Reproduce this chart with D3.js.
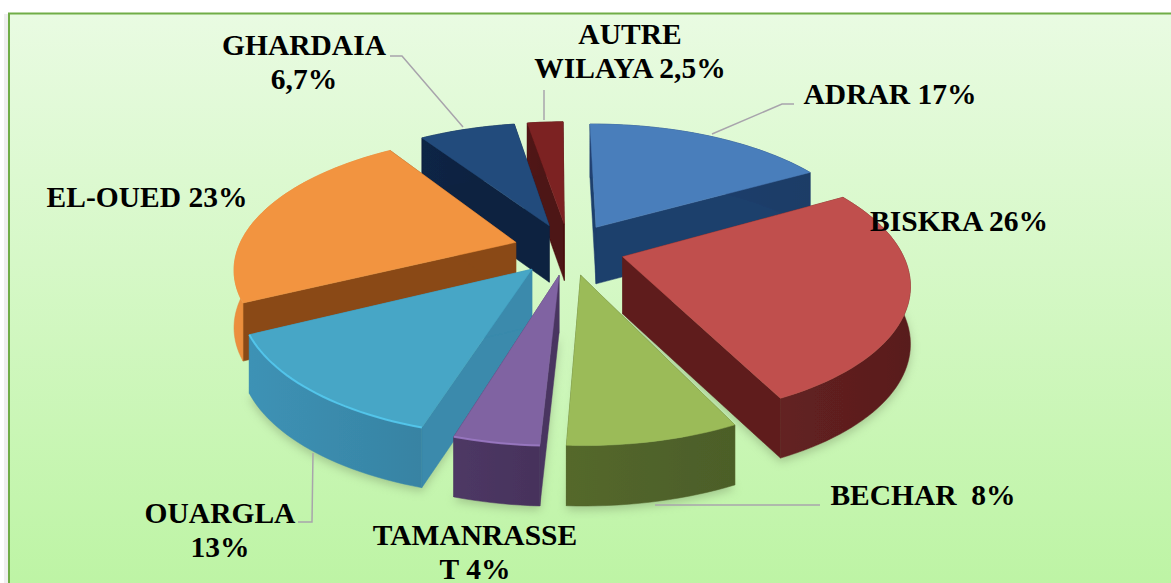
<!DOCTYPE html>
<html><head><meta charset="utf-8">
<script src="https://cdn.jsdelivr.net/npm/d3@7"></script>
<style>html,body{margin:0;padding:0;background:#fff;overflow:hidden}svg{display:block}text{font-family:"Liberation Serif",serif;font-weight:bold;fill:#000}</style>
</head><body><svg id="c" width="1171" height="583"></svg>
<script>
const categories = ["ADRAR","BISKRA","BECHAR","TAMANRASSET","OUARGLA","EL-OUED","GHARDAIA","AUTRE WILAYA"];
const values = [17,26,8,4,13,23,6.7,2.5];
const topColors = ["#4a7ebb","#c0504d","#9bbb59","#8064a2","#46a6c6","#f29440","#234c7c","#7c2324"];
const wallColors = ["#1f3f6c","#5e1f1f","#50632a","#4a3560","#3a8aac","#8a4a16","#0f2341","#4d1212"];
const rimColors = ["#1f3f6c","#5e1f1f","#50632a","#4a3560","#3a8aac","#e0883a","#0f2341","#4d1212"];
const drawOrder = [7,6,0,5,1,4,3,2];
const highlighted = [4,3];
const labels = [
 {lines:["ADRAR 17%"],x:890,y:104},
 {lines:["BISKRA 26%"],x:959,y:231},
 {lines:["BECHAR  8%"],x:923,y:505},
 {lines:["TAMANRASSE","T 4%"],x:475,y:545},
 {lines:["OUARGLA","13%"],x:220,y:523},
 {lines:["EL-OUED 23%"],x:147,y:207},
 {lines:["GHARDAIA","6,7%"],x:304,y:55},
 {lines:["AUTRE","WILAYA 2,5%"],x:630,y:44}
];
const leaders = [
 [[712,134],[782,104],[794,104]],
 [[655,505],[820,505]],
 [[313,453],[312,522],[298,522]],
 [[463,127],[402,56],[390,56]],
 [[544,120],[544,90]]
];

const svg = d3.select("#c");
const defs = svg.append("defs");
const bg = defs.append("linearGradient").attr("id","bg").attr("x1",0).attr("y1",0).attr("x2",0).attr("y2",1);
bg.append("stop").attr("offset",0).attr("stop-color","#e9fbe2");
bg.append("stop").attr("offset",1).attr("stop-color","#bdf4a4");
defs.append("filter").attr("id","blur").attr("x","-20%").attr("y","-20%").attr("width","140%").attr("height","140%")
  .append("feGaussianBlur").attr("stdDeviation",5);
defs.append("filter").attr("id","soft").attr("x","-10%").attr("y","-10%").attr("width","120%").attr("height","120%")
  .append("feGaussianBlur").attr("stdDeviation",0.7);
defs.append("filter").attr("id","edge").attr("x","-5%").attr("y","-5%").attr("width","110%").attr("height","110%")
  .append("feGaussianBlur").attr("stdDeviation",0.5);

svg.append("rect").attr("x",4).attr("y",14).attr("width",1167).attr("height",569).attr("fill","#efefef");
svg.append("rect").attr("x",9).attr("y",13.5).attr("width",1170).attr("height",575)
  .attr("fill","url(#bg)").attr("stroke","#70ad47").attr("stroke-width",2);

// pie layout and perspective projection of the tilted disk
const ROT = -0.5*Math.PI/180;
const pie = d3.pie().sort(null).startAngle(ROT).endAngle(2*Math.PI+ROT).value(d=>d)(values);
const cx=569, cy=249, R=278, K=129, P=0.18, EXPLODE=0.2, DEPTH=57;
function project(u,v,down){
  const s=1/(1-P*v);
  return [cx+u*R*s, cy+v*K*s+(down?DEPTH*(1+0.05*v):0)];
}
const line=d3.line();
function slice(d){
  const mid=(d.startAngle+d.endAngle)/2;
  const ax=EXPLODE*Math.sin(mid), ay=-EXPLODE*Math.cos(mid);
  const steps=Math.max(6,Math.ceil((d.endAngle-d.startAngle)/0.03));
  const ang=d3.scaleLinear().domain([0,steps]).range([d.startAngle,d.endAngle]);
  const rim=d3.range(steps+1).map(i=>[ax+Math.sin(ang(i)),ay-Math.cos(ang(i))]);
  return {apex:[ax,ay],rim};
}
const P2=(q,down)=>project(q[0],q[1],down);
const shadow=svg.append("g").attr("filter","url(#blur)").attr("opacity",0.5);

// soft ground shadow under the front slices
[1,4,3,2].forEach(i=>{
  const g=slice(pie[i]);
  const pts=[g.apex,...g.rim].map(q=>P2(q,true)).map(p=>[p[0],p[1]+4]);
  shadow.append("path").attr("d",line(pts)+"Z").attr("fill","#7f9a6c");
});

const leaderG=svg.append("g");
leaders.forEach(l=>leaderG.append("path").attr("d",line(l)).attr("fill","none").attr("stroke","#a8a4ac").attr("stroke-width",1.5));

const body=svg.append("g").attr("filter","url(#edge)");
drawOrder.forEach(i=>{
  const g=slice(pie[i]);
  const wall=wallColors[i], top=topColors[i];
  const gr=body.append("g");
  const first=g.rim[0], last=g.rim[g.rim.length-1];
  [first,last].forEach(q=>{
    gr.append("path").attr("d",line([P2(g.apex),P2(q),P2(q,true),P2(g.apex,true)])+"Z")
      .attr("fill",wall).attr("stroke",wall).attr("stroke-width",0.5);
  });
  const outer=[...g.rim.map(q=>P2(q)),...g.rim.slice().reverse().map(q=>P2(q,true))];
  const grad=defs.append("linearGradient").attr("id","w"+i).attr("x1",0).attr("y1",0).attr("x2",1).attr("y2",0);
  grad.append("stop").attr("offset",0).attr("stop-color",d3.color(rimColors[i]).brighter(0.15));
  grad.append("stop").attr("offset",1).attr("stop-color",d3.color(rimColors[i]).darker(0.15));
  gr.append("path").attr("d",line(outer)+"Z").attr("fill",`url(#w${i})`).attr("stroke",rimColors[i]).attr("stroke-width",0.5);
  gr.append("path").attr("d",line([P2(g.apex),...g.rim.map(q=>P2(q))])+"Z")
    .attr("fill",top).attr("stroke",top).attr("stroke-width",0.5);
  // bevel highlight along the front rim
  if(highlighted.includes(i)){
    gr.append("path").attr("d",line(g.rim.map(q=>P2(q)))).attr("fill","none")
      .attr("stroke",d3.color(top).brighter(0.6)).attr("stroke-width",2).attr("filter","url(#soft)").attr("opacity",0.8);
  }
});

const txt=svg.append("g");
labels.forEach(l=>{
  const t=txt.append("text").attr("x",l.x).attr("y",l.y).attr("text-anchor","middle").attr("font-size",29.5).style("white-space","pre");
  l.lines.forEach((s,j)=>t.append("tspan").attr("x",l.x).attr("dy",j?33.5:0).text(s));
});
</script></body></html>
